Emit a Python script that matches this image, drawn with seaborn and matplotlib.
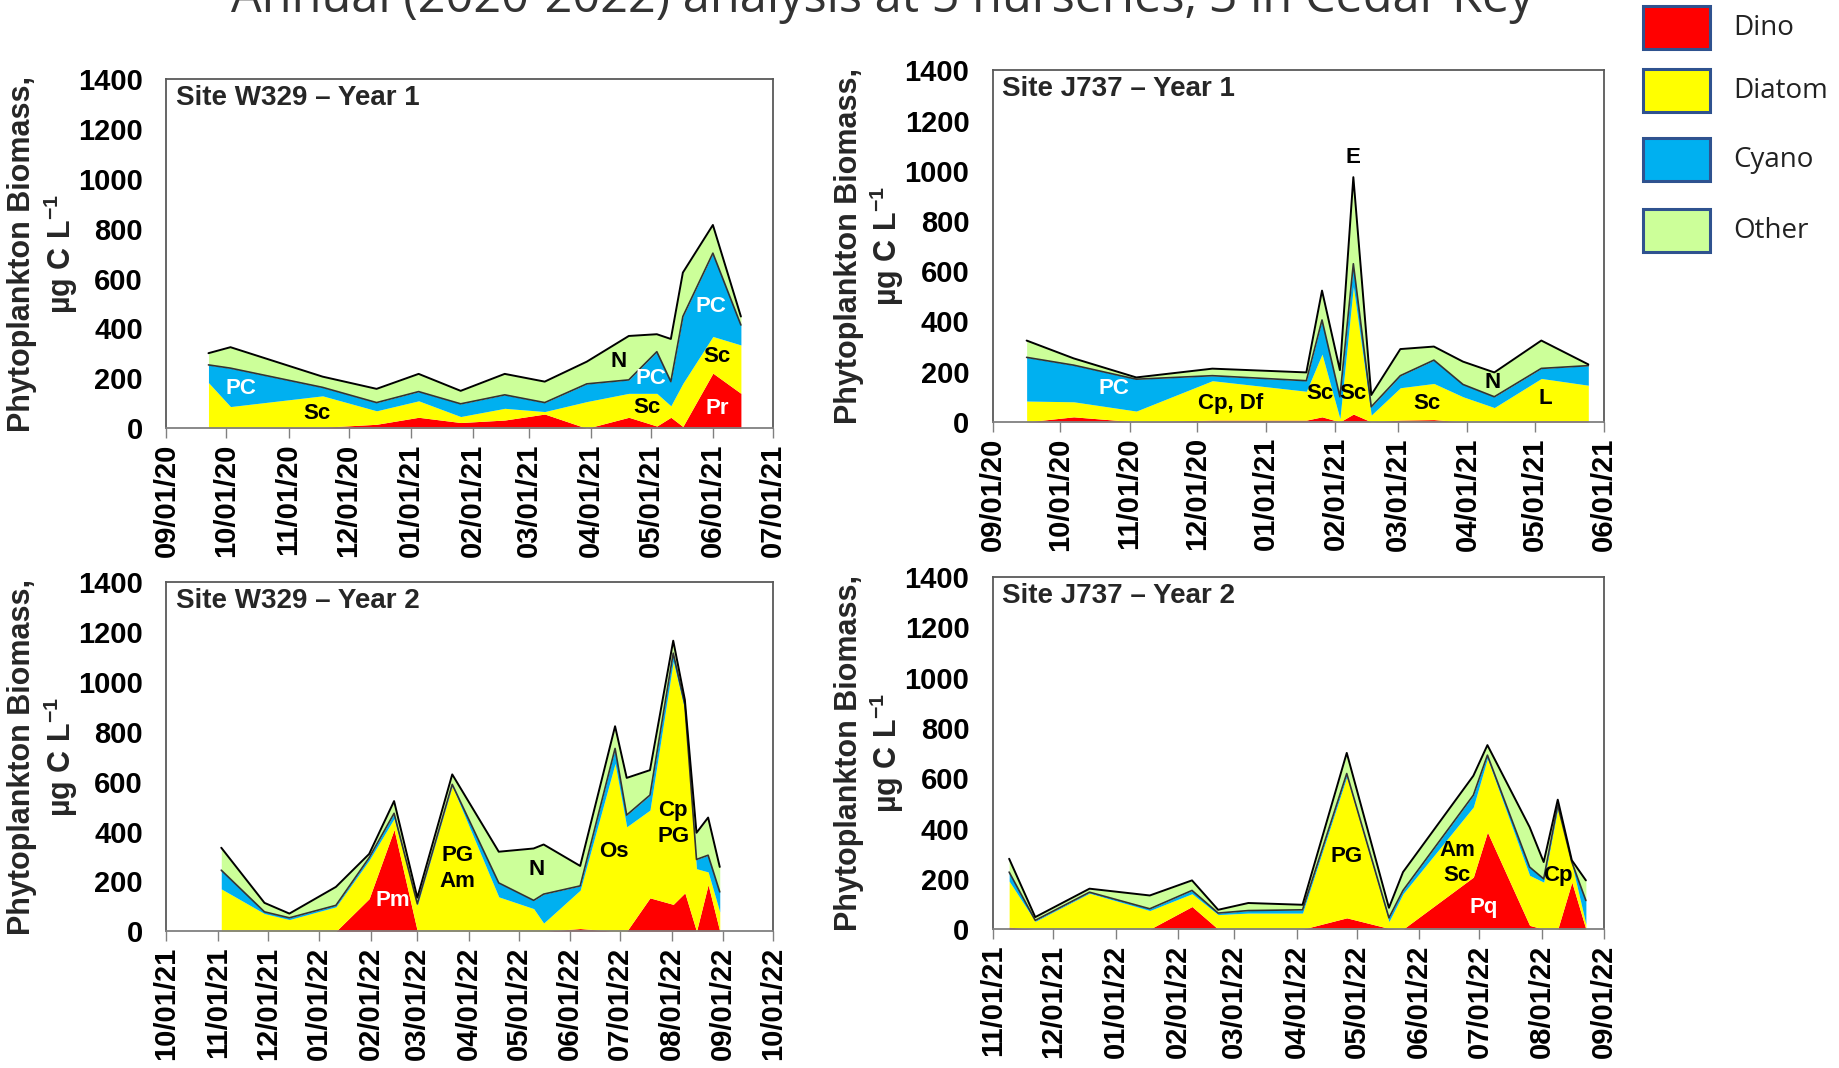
import matplotlib
matplotlib.use("Agg")
import matplotlib.pyplot as plt
import matplotlib.dates as mdates
from matplotlib.patches import Rectangle
import numpy as np
import pandas as pd
import seaborn as sns

groups = ["Dino", "Diatom", "Cyano", "Other"]
group_colors = ["#FF0000", "#FFFF00", "#00B0F0", "#CCFF99"]

# Site W329 - Year 1
w1_dates = ["2020-09-22", "2020-10-03", "2020-11-18", "2020-12-15", "2021-01-05",
            "2021-01-26", "2021-02-17", "2021-03-09", "2021-03-30", "2021-04-20",
            "2021-05-04", "2021-05-11", "2021-05-17", "2021-06-01", "2021-06-15"]
w1_dino = [0, 0, 4, 16, 44, 23, 33, 57, 0, 44, 9, 44, 7, 221, 140]
w1_diatom = [183, 87, 126, 54, 66, 24, 47, 10, 107, 96, 131, 46, 173, 147, 194]
w1_cyano = [71, 154, 34, 33, 37, 51, 54, 36, 71, 54, 167, 97, 268, 334, 80]
w1_other = [47, 84, 43, 55, 71, 52, 84, 84, 89, 176, 70, 171, 176, 113, 34]

# Site J737 - Year 1
j1_dates = ["2020-09-16", "2020-10-07", "2020-11-04", "2020-12-08", "2021-01-19",
            "2021-01-26", "2021-02-03", "2021-02-09", "2021-02-17", "2021-03-02",
            "2021-03-17", "2021-03-30", "2021-04-13", "2021-05-04", "2021-05-25"]
j1_dino = [0, 20, 0, 7, 7, 20, 0, 31, 0, 7, 9, 0, 0, 4, 4]
j1_diatom = [83, 60, 43, 157, 115, 250, 13, 508, 27, 129, 144, 100, 57, 169, 142]
j1_cyano = [174, 146, 127, 20, 42, 136, 87, 91, 33, 48, 93, 49, 43, 40, 78]
j1_other = [67, 27, 7, 28, 33, 117, 106, 345, 47, 106, 54, 91, 97, 111, 5]

# Site W329 - Year 2
w2_dates = ["2021-11-03", "2021-11-29", "2021-12-14", "2022-01-11", "2022-01-31",
            "2022-02-15", "2022-03-01", "2022-03-22", "2022-04-19", "2022-05-10",
            "2022-05-16", "2022-06-07", "2022-06-28", "2022-07-05", "2022-07-19",
            "2022-08-02", "2022-08-09", "2022-08-16", "2022-08-23", "2022-08-30"]
w2_dino = [0, 0, 0, 0, 131, 408, 0, 0, 0, 0, 0, 11, 0, 0, 134, 108, 154, 0, 187, 0]
w2_diatom = [170, 71, 47, 98, 154, 44, 105, 582, 138, 91, 33, 154, 673, 419, 352, 974, 733, 251, 51, 78]
w2_cyano = [75, 7, 7, 6, 10, 21, 5, 7, 56, 33, 116, 17, 60, 47, 60, 33, 21, 37, 67, 80]
w2_other = [90, 36, 17, 74, 15, 49, 25, 40, 125, 208, 199, 80, 89, 149, 100, 50, 20, 107, 151, 100]

# Site J737 - Year 2
j2_dates = ["2021-11-09", "2021-11-22", "2021-12-19", "2022-01-18", "2022-02-08",
            "2022-02-21", "2022-03-08", "2022-04-04", "2022-04-26", "2022-05-17",
            "2022-05-24", "2022-06-28", "2022-07-05", "2022-07-26", "2022-08-02",
            "2022-08-09", "2022-08-16", "2022-08-23"]
j2_dino = [8, 0, 0, 0, 90, 0, 0, 0, 45, 3, 0, 207, 386, 15, 0, 0, 187, 0]
j2_diatom = [183, 31, 143, 74, 51, 58, 64, 64, 561, 27, 141, 279, 293, 199, 187, 479, 73, 20]
j2_cyano = [36, 4, 4, 7, 13, 6, 10, 13, 13, 15, 13, 47, 13, 33, 13, 14, 7, 94]
j2_other = [53, 13, 14, 53, 40, 13, 30, 20, 82, 40, 73, 77, 40, 159, 67, 22, 7, 80]

# taxa labels: (text, date, value, colour)
w1_notes = [("PC", "2020-10-08", 159, "white"), ("Sc", "2020-11-15", 59, "black"),
            ("N", "2021-04-15", 266, "black"), ("PC", "2021-05-01", 200, "white"),
            ("Sc", "2021-04-29", 82, "black"), ("PC", "2021-05-31", 490, "white"),
            ("Sc", "2021-06-03", 286, "black"), ("Pr", "2021-06-03", 79, "white")]
j1_notes = [("PC", "2020-10-25", 134, "white"), ("Cp, Df", "2020-12-16", 74, "black"),
            ("Sc", "2021-01-25", 114, "black"), ("Sc", "2021-02-09", 114, "black"),
            ("E", "2021-02-09", 1054, "black"), ("Sc", "2021-03-14", 74, "black"),
            ("N", "2021-04-12", 157, "black"), ("L", "2021-05-06", 94, "black")]
w2_notes = [("Pm", "2022-02-14", 124, "white"), ("PG\nAm", "2022-03-25", 251, "black"),
            ("N", "2022-05-12", 247, "black"), ("Os", "2022-06-27", 321, "black"),
            ("Cp\nPG", "2022-08-02", 432, "black")]
j2_notes = [("PG", "2022-04-26", 287, "black"), ("Am\nSc", "2022-06-20", 263, "black"),
            ("Pq", "2022-07-03", 88, "white"), ("Cp", "2022-08-09", 214, "black")]

panels = [
    ("Site W329 \u2013 Year 1", w1_dates, [w1_dino, w1_diatom, w1_cyano, w1_other], w1_notes,
     "2020-09-01", "2021-07-01", [0.0905, 0.599, 0.3298, 0.327]),
    ("Site J737 \u2013 Year 1", j1_dates, [j1_dino, j1_diatom, j1_cyano, j1_other], j1_notes,
     "2020-09-01", "2021-06-01", [0.540, 0.605, 0.3322, 0.329]),
    ("Site W329 \u2013 Year 2", w2_dates, [w2_dino, w2_diatom, w2_cyano, w2_other], w2_notes,
     "2021-10-01", "2022-10-01", [0.0905, 0.128, 0.3298, 0.327]),
    ("Site J737 \u2013 Year 2", j2_dates, [j2_dino, j2_diatom, j2_cyano, j2_other], j2_notes,
     "2021-11-01", "2022-09-01", [0.540, 0.130, 0.3322, 0.3296]),
]

sns.set_theme(style="white")
plt.rcParams["font.family"] = ["Liberation Sans", "DejaVu Sans"]
plt.rcParams["mathtext.fontset"] = "custom"
plt.rcParams["mathtext.rm"] = "Liberation Sans:bold"
plt.rcParams["mathtext.bf"] = "Liberation Sans:bold"

fig = plt.figure(figsize=(18.39, 10.68), dpi=100)

for title, dates, layers, notes, x0, x1, rect in panels:
    ax = fig.add_axes(rect)
    d = pd.to_datetime(dates)
    ax.stackplot(d, *layers, colors=group_colors, linewidth=0)
    cum = np.cumsum(np.array(layers), axis=0)
    sns.lineplot(x=d, y=cum[2], color="#333333", linewidth=1.2, ax=ax, estimator=None)
    sns.lineplot(x=d, y=cum[3], color="black", linewidth=1.4, ax=ax, estimator=None)

    ax.set_xlim(pd.Timestamp(x0), pd.Timestamp(x1))
    ax.set_ylim(0, 1400)
    ax.set_yticks(range(0, 1401, 200))
    ax.set_xticks(pd.date_range(x0, x1, freq="MS"))
    ax.xaxis.set_major_formatter(mdates.DateFormatter("%m/%d/%y"))
    ax.set_xlabel("")
    ax.set_ylabel("")
    ax.tick_params(axis="x", direction="out", length=7, width=1, color="#808080",
                   bottom=True, pad=4)
    ax.tick_params(axis="y", length=0, pad=17)
    for lab in ax.get_xticklabels():
        lab.set_rotation(90)
        lab.set_fontweight("bold")
        lab.set_fontsize(21)
        lab.set_color("black")
    for lab in ax.get_yticklabels():
        lab.set_fontweight("bold")
        lab.set_fontsize(21)
        lab.set_color("black")
    for side, sp in ax.spines.items():
        sp.set_visible(True)
        sp.set_color("#595959" if side != "bottom" else "#808080")
        sp.set_linewidth(1.3)

    ax.text(0.015, 0.946, title, transform=ax.transAxes, ha="left", va="center",
            fontweight="bold", fontsize=20)
    for txt, dt, val, col in notes:
        ax.text(pd.Timestamp(dt), val, txt, ha="center", va="center", color=col,
                fontweight="bold", fontsize=16, linespacing=1.3)

    cy = rect[1] + rect[3] / 2
    fig.text(rect[0] - 123 / 1839, cy,
             "Phytoplankton Biomass,\n\u00b5g C L$^{-1}$",
             rotation=90, ha="center", va="center", multialignment="center",
             fontweight="bold", fontsize=22, linespacing=1.15)

# legend
leg_y = [6, 69, 138, 209]
for name, col, top in zip(groups, group_colors, leg_y):
    fig.patches.append(Rectangle((1643 / 1839, 1 - (top + 43) / 1068), 67 / 1839, 43 / 1068,
                                 transform=fig.transFigure, facecolor=col,
                                 edgecolor="#2F528F", linewidth=2.2))
    fig.text(1733 / 1839, 1 - (top + 22) / 1068, name, ha="left", va="center",
             family=["Open Sans", "DejaVu Sans"], fontsize=20, color="#222222")

fig.text(0.4797, 1 - 12 / 1068, "Annual (2020-2022) analysis at 5 nurseries, 3 in Cedar Key",
         ha="center", va="baseline", family=["Open Sans", "DejaVu Sans"],
         fontsize=35, color="#333333")

fig.savefig("out.png", dpi=100)
